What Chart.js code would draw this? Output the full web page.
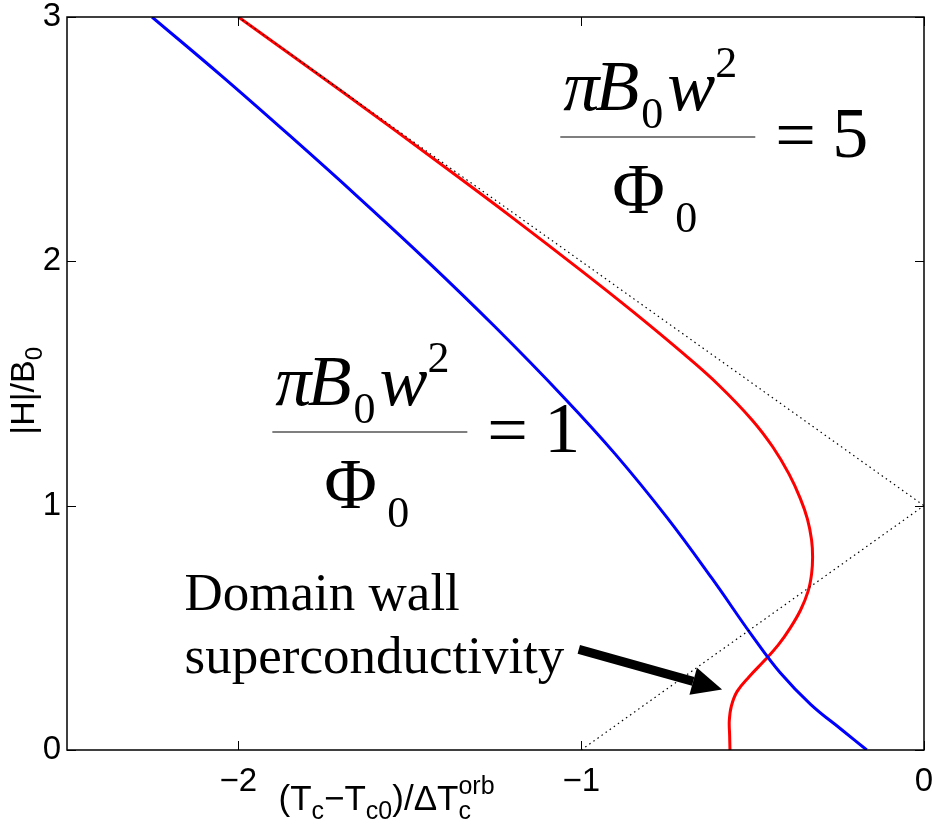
<!DOCTYPE html>
<html>
<head>
<meta charset="utf-8">
<script src="https://cdn.jsdelivr.net/npm/chart.js@4.4.1/dist/chart.umd.min.js"></script>
<style>
  html, body { margin: 0; padding: 0; background: #fff; }
  #wrap { width: 935px; height: 827px; }
</style>
</head>
<body>
<div id="wrap"><canvas id="myChart" width="935" height="827"></canvas></div>
<script>
// data
const xTicks = [-2, -1, 0];
const yTicks = [0, 1, 2, 3];

// pi*B0*w^2/Phi0 = 1
const blueX = [-2.252, -2.05, -1.85, -1.65, -1.45, -1.25, -1.05, -0.90, -0.75, -0.62, -0.50, -0.42, -0.33, -0.24, -0.167];
const blueY = [3.0, 2.76, 2.514, 2.262, 2.002, 1.730, 1.442, 1.21, 0.952, 0.705, 0.465, 0.317, 0.186, 0.083, 0];

// pi*B0*w^2/Phi0 = 5
const redX = [-2.0, -1.70, -1.40, -1.20, -1.00, -0.85, -0.70, -0.60, -0.501, -0.441, -0.394, -0.361, -0.340, -0.328, -0.325, -0.328, -0.338, -0.360, -0.390, -0.425, -0.464, -0.510, -0.545, -0.562, -0.568, -0.567, -0.566];
const redY = [3.0, 2.697, 2.388, 2.178, 1.962, 1.795, 1.62, 1.495, 1.35, 1.24, 1.13, 1.03, 0.945, 0.86, 0.79, 0.72, 0.65, 0.573, 0.50, 0.43, 0.368, 0.30, 0.24, 0.18, 0.12, 0.06, 0];

// dotted guide lines
const upperX = [-2, 0];
const upperY = [3, 1];
const lowerX = [-1, 0];
const lowerY = [0, 1];

// annotation anchors (data units)
const frac5 = { x: -1.061, y: 2.509, value: '5' };
const frac1 = { x: -1.901, y: 1.302, value: '1' };
const wallText = { x: -2.157, y1: 0.575, y2: 0.316, lines: ['Domain wall', 'superconductivity'] };
const arrowFrom = [-1.007, 0.412];
const arrowTo = [-0.589, 0.248];

const toPts = (xs, ys) => xs.map((x, i) => ({ x: x, y: ys[i] }));

const data = {
    datasets: [
        {
            label: 'upper',
            data: toPts(upperX, upperY),
            borderColor: '#000',
            borderWidth: 1.2,
            borderDash: [1.5, 3.5],
            pointRadius: 0,
            showLine: true
        },
        {
            label: 'lower',
            data: toPts(lowerX, lowerY),
            borderColor: '#000',
            borderWidth: 1.2,
            borderDash: [1.5, 3.5],
            pointRadius: 0,
            showLine: true
        },
        {
            label: 'w1',
            data: toPts(blueX, blueY),
            borderColor: '#0000ff',
            borderWidth: 3,
            pointRadius: 0,
            tension: 0.4,
            showLine: true
        },
        {
            label: 'w5',
            data: toPts(redX, redY),
            borderColor: '#ff0000',
            borderWidth: 3,
            pointRadius: 0,
            tension: 0.4,
            showLine: true
        }
    ]
};

function drawFraction(ctx, left, barY, value) {
    const serif = '"Liberation Serif", "Times New Roman", serif';
    ctx.fillStyle = '#000';
    ctx.textAlign = 'left';
    ctx.textBaseline = 'alphabetic';
    // numerator laid out left to right
    let x = left + 3;
    const put = (t, font, dy, gap) => {
        ctx.font = font;
        ctx.fillText(t, x, barY + dy);
        x += ctx.measureText(t).width + gap;
    };
    put('\u03c0', 'italic 72px ' + serif, -27, -4);
    put('B', 'italic 72px ' + serif, -27, 2);
    put('0', '44px ' + serif, -9, 4);
    put('w', 'italic 72px ' + serif, -27, 0);
    put('2', '44px ' + serif, -60, 0);
    ctx.font = '72px ' + serif;
    ctx.fillText('\u03a6', left + 52, barY + 76);
    ctx.fillText('=', left + 215, barY + 22);
    ctx.fillText(value, left + 272, barY + 20);
    ctx.font = '44px ' + serif;
    ctx.fillText('0', left + 115, barY + 95);
    ctx.strokeStyle = '#555';
    ctx.lineWidth = 1.5;
    ctx.beginPath();
    ctx.moveTo(left, barY);
    ctx.lineTo(left + 195, barY);
    ctx.stroke();
}

const extras = {
    id: 'extras',
    afterDatasetsDraw(chart) {
        const ctx = chart.ctx;
        const a = chart.chartArea;
        const xs = chart.scales.x, ys = chart.scales.y;
        ctx.save();

        // box and inward ticks
        ctx.strokeStyle = '#000';
        ctx.lineWidth = 1.5;
        ctx.strokeRect(a.left, a.top, a.right - a.left, a.bottom - a.top);
        ctx.lineWidth = 1;
        ctx.beginPath();
        xTicks.forEach(v => {
            const px = Math.round(xs.getPixelForValue(v)) + 0.5;
            ctx.moveTo(px, a.bottom); ctx.lineTo(px, a.bottom - 9);
            ctx.moveTo(px, a.top); ctx.lineTo(px, a.top + 9);
        });
        yTicks.forEach(v => {
            const py = Math.round(ys.getPixelForValue(v)) + 0.5;
            ctx.moveTo(a.left, py); ctx.lineTo(a.left + 9, py);
            ctx.moveTo(a.right, py); ctx.lineTo(a.right - 9, py);
        });
        ctx.stroke();

        // formulas
        drawFraction(ctx, xs.getPixelForValue(frac5.x), ys.getPixelForValue(frac5.y), frac5.value);
        drawFraction(ctx, xs.getPixelForValue(frac1.x), ys.getPixelForValue(frac1.y), frac1.value);

        // domain wall label
        ctx.fillStyle = '#000';
        ctx.font = '53px "Liberation Serif", "Times New Roman", serif';
        ctx.textAlign = 'left';
        ctx.textBaseline = 'alphabetic';
        ctx.fillText(wallText.lines[0], xs.getPixelForValue(wallText.x), ys.getPixelForValue(wallText.y1));
        ctx.fillText(wallText.lines[1], xs.getPixelForValue(wallText.x), ys.getPixelForValue(wallText.y2));

        // arrow
        const x0 = xs.getPixelForValue(arrowFrom[0]), y0 = ys.getPixelForValue(arrowFrom[1]);
        const x1 = xs.getPixelForValue(arrowTo[0]), y1 = ys.getPixelForValue(arrowTo[1]);
        const ang = Math.atan2(y1 - y0, x1 - x0);
        const headLen = 30, headW = 14;
        const bx = x1 - headLen * Math.cos(ang), by = y1 - headLen * Math.sin(ang);
        ctx.strokeStyle = '#000';
        ctx.lineWidth = 9;
        ctx.beginPath();
        ctx.moveTo(x0, y0);
        ctx.lineTo(bx, by);
        ctx.stroke();
        ctx.beginPath();
        ctx.moveTo(x1, y1);
        ctx.lineTo(bx + headW * Math.sin(ang), by - headW * Math.cos(ang));
        ctx.lineTo(bx - headW * Math.sin(ang), by + headW * Math.cos(ang));
        ctx.closePath();
        ctx.fill();

        // x axis title
        const sans = '"Liberation Sans", Arial, sans-serif';
        let tx = xs.getPixelForValue(-1.883);
        const base = a.bottom + 60;
        const big = '35px ' + sans, small = '25px ' + sans;
        const parts = [
            ['(T', big, 0], ['c', small, 9], ['\u2212T', big, 0], ['c0', small, 9],
            [')/\u0394T', big, 0]
        ];
        parts.forEach(p => {
            ctx.font = p[1];
            ctx.fillText(p[0], tx, base + p[2]);
            tx += ctx.measureText(p[0]).width;
        });
        ctx.font = small;
        ctx.fillText('c', tx, base + 9);
        ctx.fillText('orb', tx, base - 16);

        // y axis title
        ctx.save();
        ctx.translate(34, ys.getPixelForValue(1.47));
        ctx.rotate(-Math.PI / 2);
        ctx.textAlign = 'left';
        ctx.font = '34px ' + sans;
        const t1 = '|H|/B';
        const w1 = ctx.measureText(t1).width;
        ctx.font = '24px ' + sans;
        const w2 = ctx.measureText('0').width;
        let sx = -(w1 + w2) / 2;
        ctx.font = '34px ' + sans;
        ctx.fillText(t1, sx, 0);
        ctx.font = '24px ' + sans;
        ctx.fillText('0', sx + w1, 8);
        ctx.restore();

        ctx.restore();
    }
};

const noPad = s => {
    s.paddingLeft = 0; s.paddingRight = 0; s.paddingTop = 0; s.paddingBottom = 0;
};

const config = {
    type: 'scatter',
    data: data,
    options: {
        responsive: false,
        animation: false,
        layout: { padding: { left: 0, top: 17, right: 11, bottom: 0 } },
        plugins: { legend: { display: false }, tooltip: { enabled: false } },
        scales: {
            x: {
                type: 'linear',
                min: -2.5,
                max: 0,
                afterBuildTicks: s => { s.ticks = xTicks.map(v => ({ value: v })); },
                afterFit: s => { s.height = 77; noPad(s); },
                grid: { display: false, drawTicks: false },
                border: { display: false },
                ticks: {
                    padding: 12,
                    color: '#000',
                    font: { family: '"Liberation Sans", Arial, sans-serif', size: 33 },
                    callback: v => v < 0 ? '\u2212' + Math.abs(v) : String(v)
                }
            },
            y: {
                type: 'linear',
                min: 0,
                max: 3,
                afterBuildTicks: s => { s.ticks = yTicks.map(v => ({ value: v })); },
                afterFit: s => { s.width = 67; noPad(s); },
                grid: { display: false, drawTicks: false },
                border: { display: false },
                ticks: {
                    padding: 6,
                    color: '#000',
                    font: { family: '"Liberation Sans", Arial, sans-serif', size: 33 },
                    callback: v => String(v)
                }
            }
        }
    },
    plugins: [extras]
};

const myChart = new Chart(document.getElementById('myChart'), config);
</script>
</body>
</html>
